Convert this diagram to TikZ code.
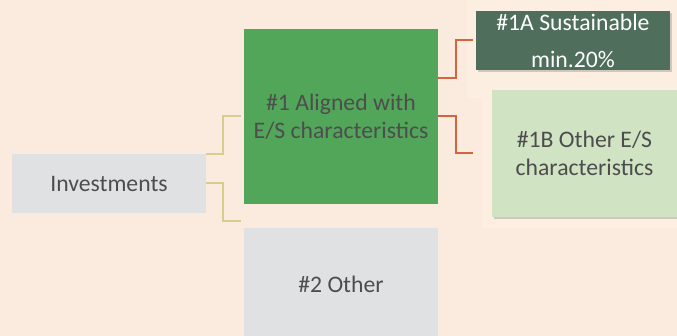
\documentclass[tikz,border=0pt]{standalone}
\usepackage{fontspec}
\setmainfont{Carlito}
\usetikzlibrary{shadows}
\definecolor{bgpeach}{HTML}{FAEBDE}
\definecolor{bglight}{HTML}{FCEFE1}
\definecolor{boxgray}{HTML}{E0E1E3}
\definecolor{boxgreen}{HTML}{52A65A}
\definecolor{boxdark}{HTML}{4F6E5B}
\definecolor{boxlight}{HTML}{D0E3C2}
\definecolor{txtgray}{HTML}{4D4D4D}
\definecolor{linkyellow}{HTML}{D6CD8E}
\definecolor{linkred}{HTML}{D2643F}

\begin{document}
\begin{tikzpicture}[x=0.5pt,y=-0.5pt,
      every node/.style={rectangle,inner sep=0pt,align=center,text=txtgray,
        font=\fontsize{11.85}{14}\selectfont},
      box/.style={minimum width=97pt},
      shadowed/.style={drop shadow={opacity=0.35,shadow xshift=1pt,shadow yshift=-1pt}},
      invlink/.style={draw=linkyellow,line width=1pt},
      alignlink/.style={draw=linkred,line width=1pt}]
    \fill[bgpeach] (0,0) rectangle (677,336);
    \useasboundingbox (0,0) rectangle (677,336);
    \fill[bglight] (467,0) rectangle (677,98);
    \fill[bglight] (482,98) rectangle (677,228);
    \node[box,fill=boxgray,minimum height=29.5pt] (inv) at (109,183.5) {Investments};
    \node[box,fill=boxgreen,minimum height=87.5pt] (aligned) at (341,116.5)
      {\#1 Aligned with\\E/S characteristics};
    \node[box,fill=boxgray,minimum height=56pt] (other) at (341,284) {\#2 Other};
    \node[box,fill=boxdark,minimum height=29.5pt,shadowed,text=white,
      font=\fontsize{11.85}{18.5}\selectfont] (sust) at (573,40.5)
      {\#1A Sustainable\\min.20\%};
    \node[fill=boxlight,minimum width=92.5pt,minimum height=63.5pt,shadowed]
      (otheres) at (584.5,153.5) {\#1B Other E/S\\characteristics};
    \draw[invlink] (inv.north east) -- ++(17,0) |- ([xshift=-1.5pt]aligned.west);
    \draw[invlink] (inv.east) -- ++(17,0) |- ([xshift=-1.5pt,yshift=3.5pt]other.north west);
    \draw[alignlink] ([yshift=19pt]aligned.east) -- ++(18,0) |- ([xshift=-1.5pt]sust.west);
    \draw[alignlink] (aligned.east) -- ++(18,0) |- ([xshift=-9.5pt]otheres.west);
  \end{tikzpicture}
\end{document}
